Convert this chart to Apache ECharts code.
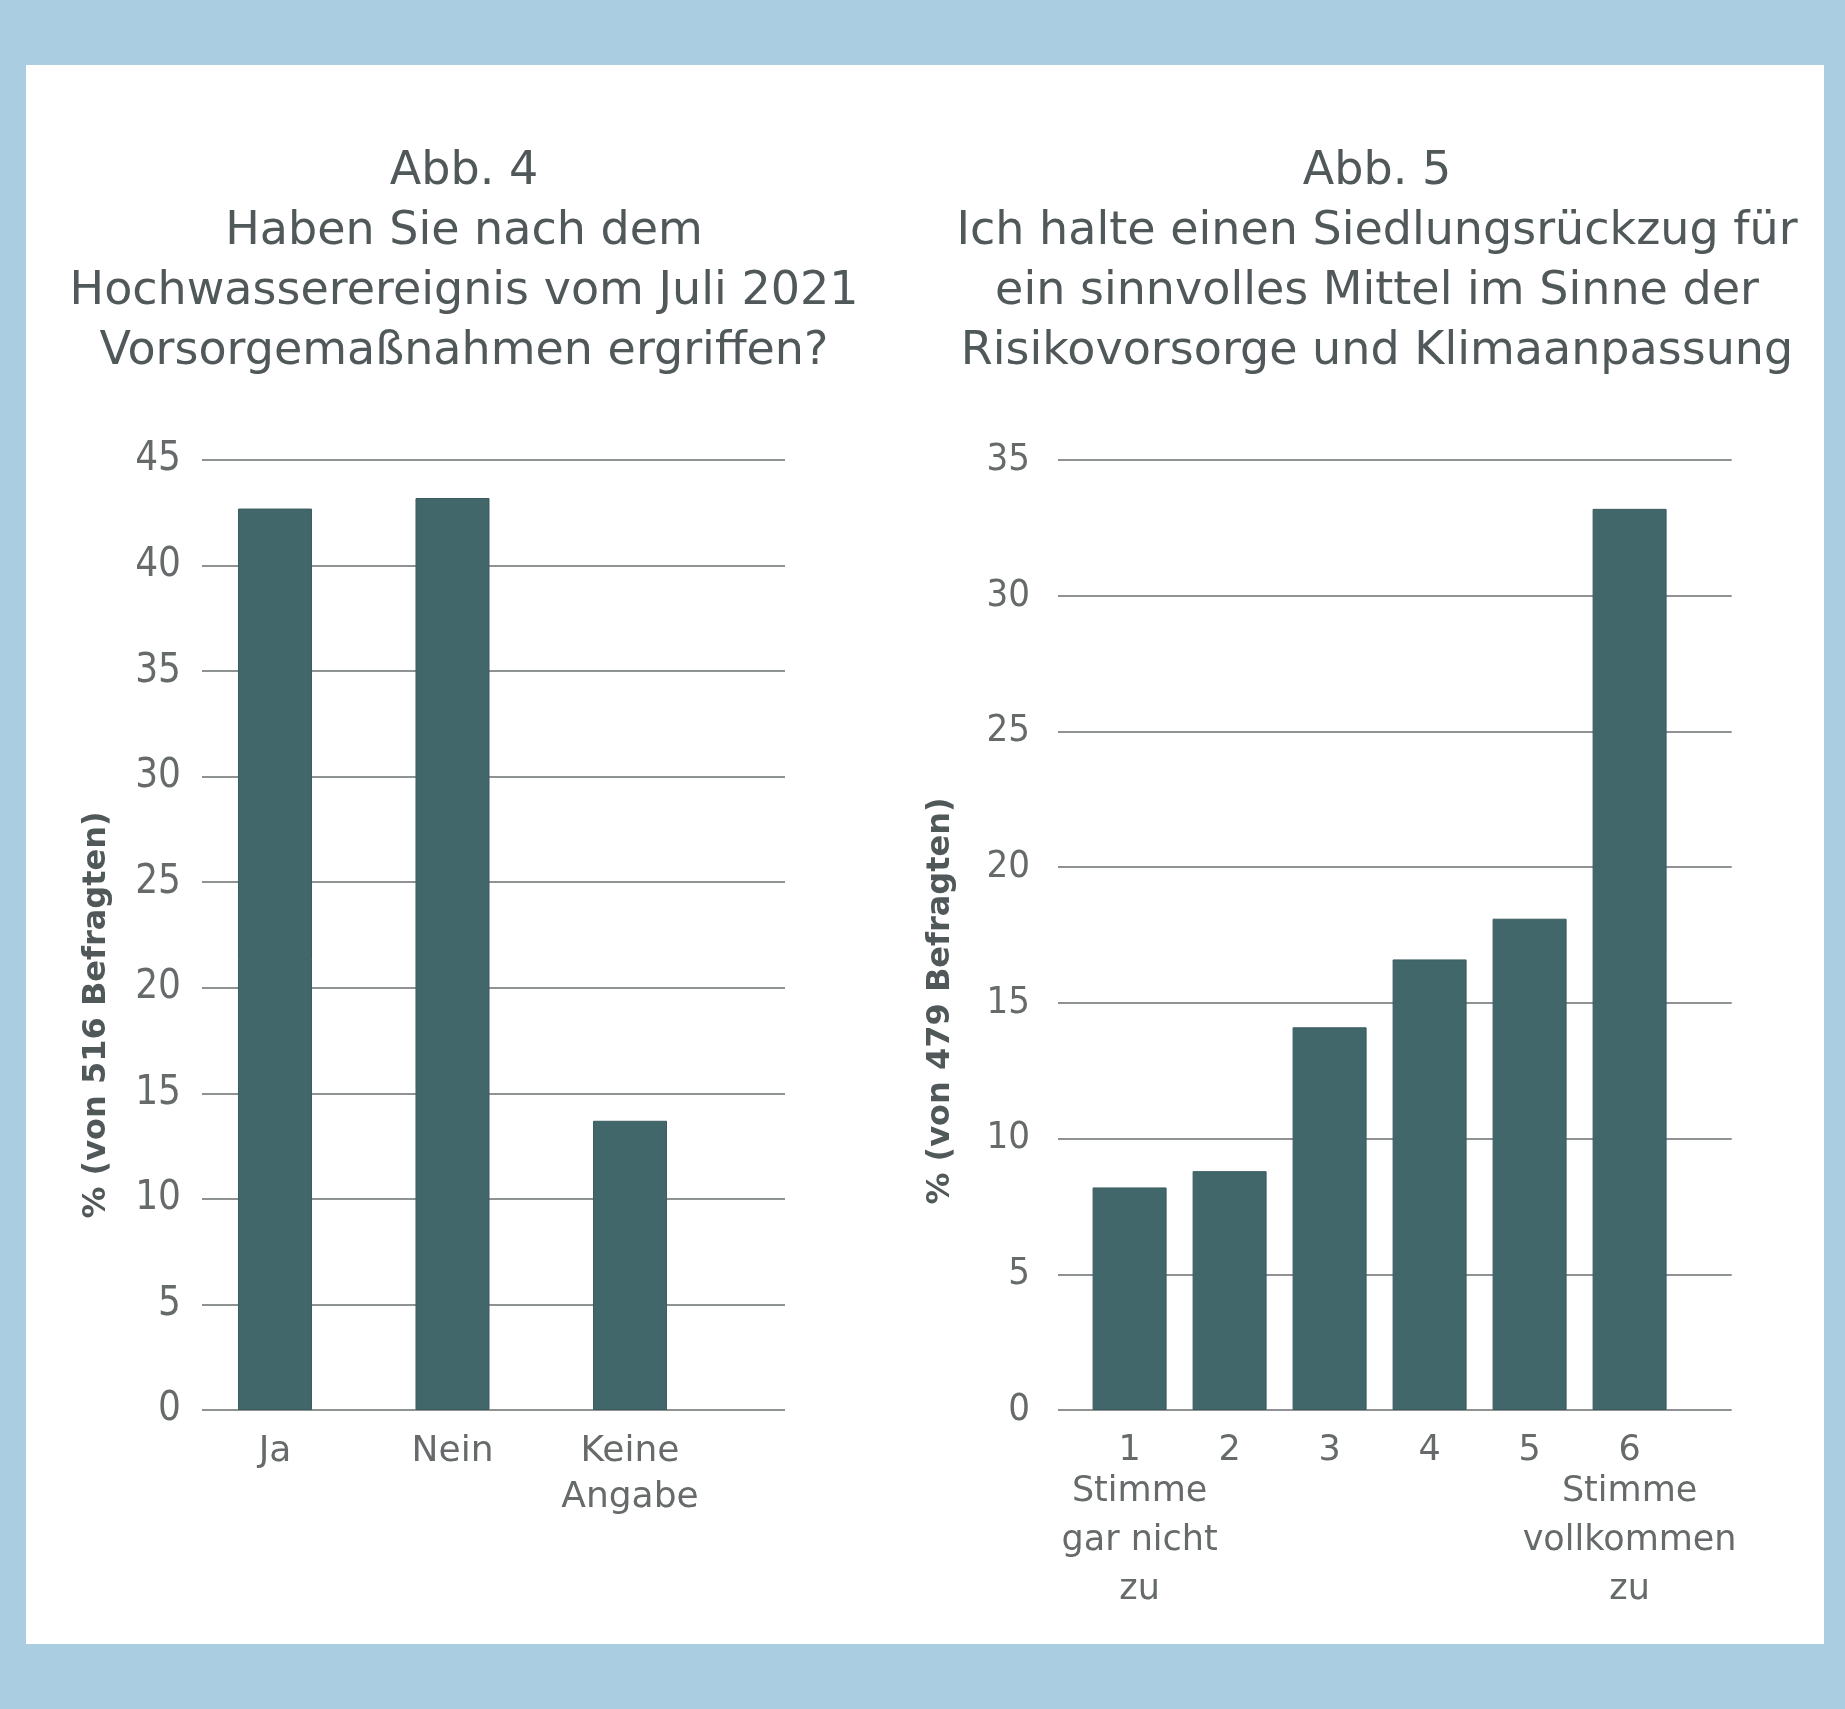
<!DOCTYPE html>
<html>
<head>
<meta charset="utf-8">
<script src="https://cdn.jsdelivr.net/npm/echarts@6/dist/echarts.min.js"></script>
<style>
html,body{margin:0;padding:0;background:#abcde1;}
#c{width:1845px;height:1709px;}
</style>
</head>
<body>
<div id="c"></div>
<script>
// ---- data ----
const leftTitle = 'Abb. 4\nHaben Sie nach dem\nHochwasserereignis vom Juli 2021\nVorsorgemaßnahmen ergriffen?';
const rightTitle = 'Abb. 5\nIch halte einen Siedlungsrückzug für\nein sinnvolles Mittel im Sinne der\nRisikovorsorge und Klimaanpassung';
const leftCategories = ['Ja', 'Nein', 'Keine\nAngabe'];
const leftValues = [42.7, 43.2, 13.7];
const leftAxisName = '% (von 516 Befragten)';
const leftTicks = {min: 0, max: 45, step: 5};
const rightCategories = ['1', '2', '3', '4', '5', '6'];
const rightSubLabels = ['Stimme\ngar nicht\nzu', '', '', '', '', 'Stimme\nvollkommen\nzu'];
const rightValues = [8.2, 8.8, 14.1, 16.6, 18.1, 33.2];
const rightAxisName = '% (von 479 Befragten)';
const rightTicks = {min: 0, max: 35, step: 5};

const BAR = '#41676a';
const GRID = '#8f9292';
const TXT = '#50585a';
const TICK = '#666a6b';
const FONT = "'DejaVu Sans', sans-serif";
const COND = "'DejaVu Sans Condensed', 'DejaVu Sans', sans-serif";

const chart = echarts.init(document.getElementById('c'), null, {renderer: 'canvas'});

const TOP = 460, H = 950;

function rightLabel(v, i) {
  const sub = rightSubLabels[i];
  if (!sub) return '{d|' + v + '}';
  const st = i === 0 ? 's1' : 's';
  return '{d|' + v + '}\n' + sub.split('\n').map(l => '{' + st + '|' + l + '}').join('\n');
}

const option = {
  backgroundColor: '#abcde1',
  animation: false,
  title: [
    {text: leftTitle, left: 459, top: 137, textAlign: 'center',
     textStyle: {fontFamily: FONT, fontSize: 46, fontWeight: 'normal', color: TXT, lineHeight: 60}},
    {text: rightTitle, left: 1372, top: 137, textAlign: 'center',
     textStyle: {fontFamily: FONT, fontSize: 46, fontWeight: 'normal', color: TXT, lineHeight: 60}}
  ],
  graphic: [
    {type: 'rect', z: -100, silent: true, shape: {x: 26, y: 65, width: 1798, height: 1579}, style: {fill: '#ffffff'}},
    {type: 'text', x: 97, y: 1015, rotation: Math.PI / 2, silent: true,
     style: {text: leftAxisName, fontFamily: FONT, fontSize: 32, fontWeight: 'bold', fill: TXT, align: 'center', verticalAlign: 'middle'}},
    {type: 'text', x: 941, y: 1001, rotation: Math.PI / 2, silent: true,
     style: {text: rightAxisName, fontFamily: FONT, fontSize: 32, fontWeight: 'bold', fill: TXT, align: 'center', verticalAlign: 'middle'}}
  ],
  grid: [
    {left: 186.25, width: 532.5, top: TOP, height: H},
    {left: 202, width: 583, top: TOP, height: H},
    {left: 1079.6, width: 600, top: TOP, height: H},
    {left: 1058, width: 673.7, top: TOP, height: H}
  ],
  xAxis: [
    {gridIndex: 0, type: 'category', data: leftCategories,
     axisLine: {show: false}, axisTick: {show: false},
     axisLabel: {interval: 0, margin: 19, fontFamily: FONT, fontSize: 36, color: TICK, lineHeight: 46}},
    {gridIndex: 1, type: 'value', min: 0, max: 1, show: false},
    {gridIndex: 2, type: 'category', data: rightCategories,
     axisLine: {show: false}, axisTick: {show: false},
     axisLabel: {interval: 0, margin: 25, fontFamily: FONT, fontSize: 35, color: TICK, formatter: rightLabel,
       rich: {
         d: {fontFamily: FONT, fontSize: 35, color: TICK, lineHeight: 32},
         s: {fontFamily: FONT, fontSize: 35, color: TICK, lineHeight: 49},
         s1: {fontFamily: FONT, fontSize: 35, color: TICK, lineHeight: 49, padding: [0, 0, 0, 20]}
       }}},
    {gridIndex: 3, type: 'value', min: 0, max: 1, show: false}
  ],
  yAxis: [
    {gridIndex: 0, type: 'value', min: leftTicks.min, max: leftTicks.max, show: false, splitLine: {show: false}},
    {gridIndex: 1, type: 'value', min: leftTicks.min, max: leftTicks.max, interval: leftTicks.step,
     axisLine: {show: false}, axisTick: {show: false},
     axisLabel: {margin: 21, fontFamily: COND, fontSize: 40, color: TICK},
     splitLine: {show: true, showMinLine: true, showMaxLine: true, lineStyle: {color: GRID, width: 2}}},
    {gridIndex: 2, type: 'value', min: rightTicks.min, max: rightTicks.max, show: false, splitLine: {show: false}},
    {gridIndex: 3, type: 'value', min: rightTicks.min, max: rightTicks.max, interval: rightTicks.step,
     axisLine: {show: false}, axisTick: {show: false},
     axisLabel: {margin: 28, fontFamily: COND, fontSize: 38, color: TICK},
     splitLine: {show: true, showMinLine: true, showMaxLine: true, lineStyle: {color: GRID, width: 2}}}
  ],
  series: [
    {type: 'bar', xAxisIndex: 0, yAxisIndex: 0, data: leftValues, barCategoryGap: '58.3%',
     itemStyle: {color: BAR, borderColor: '#3b5d60', borderWidth: 1}, z: 5},
    {type: 'bar', xAxisIndex: 2, yAxisIndex: 2, data: rightValues, barCategoryGap: '26%',
     itemStyle: {color: BAR, borderColor: '#3b5d60', borderWidth: 1}, z: 5}
  ]
};
chart.setOption(option);
</script>
</body>
</html>
